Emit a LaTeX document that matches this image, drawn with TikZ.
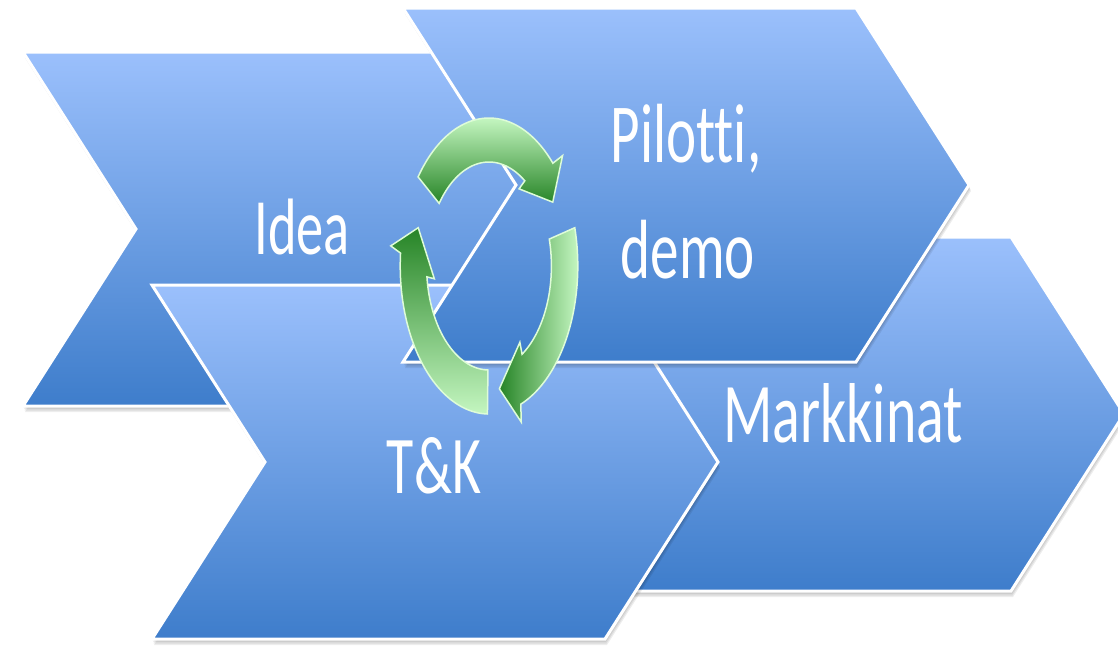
\documentclass[tikz,border=0pt]{standalone}
\usepackage{fontspec}
\setmainfont{Carlito}[Ligatures=NoCommon]
\usepackage{graphicx}
\definecolor{chevTop}{RGB}{155,192,252}
\definecolor{chevBot}{RGB}{62,125,203}
\definecolor{arLight}{RGB}{196,246,192}
\definecolor{arDark}{RGB}{38,132,38}
\definecolor{arEdge}{RGB}{222,252,216}
\tikzset{
  chevfill/.style={draw=white, line width=3pt, line join=miter, top color=chevTop, bottom color=chevBot},
  chevshadow/.style={fill=black, opacity=0.07},
  arrowedge/.style={draw=arEdge, line width=1.5pt, line join=miter},
  lbl/.style={text=white, anchor=base, inner sep=0pt},
}
\newcommand{\chevshape}[3]{% name, x, y of top-left corner
  \foreach \s in {1,...,4}{\fill[chevshadow] ({#2+0.5*\s},{#3+1.5*\s}) -- ++(453,0) -- ++(113,177) -- ++(-113,177) -- ++(-453,0) -- ++(113,-177) -- cycle;}
  \path[chevfill] (#2,#3) coordinate (#1) -- ++(453,0) -- ++(113,177) -- ++(-113,177) -- ++(-453,0) -- ++(113,-177) -- cycle;
}
\newcommand{\cycarrow}[4]{% tail angle, tip angle, shading, name
  \pgfmathsetmacro{\oa}{#2+13}\pgfmathsetmacro{\ob}{#2+11}%
  \pgfmathsetmacro{\ib}{#2+26}\pgfmathsetmacro{\ia}{#2+24}%
  \path[arrowedge,#3] plot[domain=#1:\oa,samples=50] ({489+88.8*cos(\x)},{266-148*sin(\x)})
    -- ({489+99*cos(\ob)},{266-165*sin(\ob)})
    -- ({489+74.4*cos(#2)},{266-124*sin(#2)}) coordinate (#4)
    -- ({489+55.2*cos(\ib)},{266-92*sin(\ib)})
    -- plot[domain=\ia:#1,samples=50] ({489+62.4*cos(\x)},{266-104*sin(\x)})
    -- cycle;
}
\begin{document}
\begin{tikzpicture}[x=1pt,y=-1pt]
\fill[white] (0,0) rectangle (1118,649);
\useasboundingbox (0,0) rectangle (1118,649);
% chevrons, back to front
\chevshape{cIdea}{23}{52}
\chevshape{cMark}{558}{237}
\chevshape{cTK}{152}{285}
\chevshape{cPil}{403}{8}
% cycle arrows
\cycarrow{143}{31}{top color=arLight, bottom color=arDark}{aTop}
\cycarrow{15}{-82}{left color=arDark, right color=arLight}{aRight}
\cycarrow{269}{162}{top color=arDark, bottom color=arLight}{aLeft}
% labels
\node[lbl, font=\fontsize{80}{96}\selectfont] (tIdea) at (302,254) {\scalebox{0.68}[1]{Idea}};
\node[lbl, font=\fontsize{84}{100}\selectfont] (tPil) at (686,162) {\scalebox{0.68}[1]{Pilotti,}};
\node[lbl, font=\fontsize{84}{100}\selectfont] (tDemo) at (688,278) {\scalebox{0.68}[1]{demo}};
\node[lbl, font=\fontsize{85}{100}\selectfont] (tMark) at (843,442) {\scalebox{0.68}[1]{Markkinat}};
\node[lbl, font=\fontsize{82}{98}\selectfont] (tTK) at (434,493) {\scalebox{0.68}[1]{T\&K}};
\end{tikzpicture}
\end{document}
